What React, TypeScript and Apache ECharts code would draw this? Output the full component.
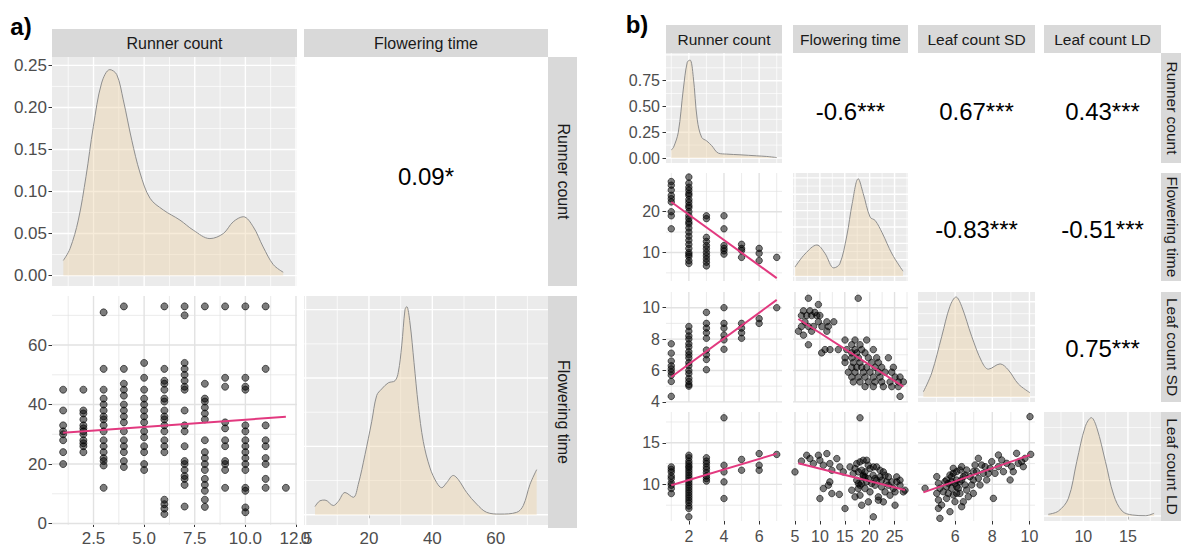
import React, { useEffect, useRef } from "react";
import * as echarts from "echarts";

// ======================= DATA =======================
// ---- panel a ----
const aVarNames = ["Runner count", "Flowering time"];
const aCorrLabel = "0.09*";
const aRunnerCounts = [1, 2, 3, 4, 5, 6, 7, 8, 9, 10, 11, 12];
const aFlowerByRunner = [
  [45, 38, 33, 31, 30, 28, 24, 20],
  [45, 38, 37, 35, 33, 32, 31, 30, 28, 27, 26, 24],
  [71, 52, 45, 42, 40, 38, 36, 35, 33, 31, 28, 26, 24, 22, 21, 19.5, 12],
  [73, 52, 47, 45, 43, 40, 38, 36, 34, 31, 28, 26, 24, 21, 19],
  [54, 49, 45, 42, 40, 38, 36, 34, 31, 29, 26, 24, 20, 18],
  [73, 52, 48, 47, 45, 42, 41, 38, 36, 35, 33, 31, 28, 26, 24, 8, 6.5, 5, 3.2],
  [73, 70, 54, 52, 50, 48, 46, 45, 38, 33, 31, 26, 21, 20, 18, 16, 15, 13, 5.7],
  [73, 47, 42, 41, 39, 37, 35, 28, 24, 22, 20, 18, 15, 13, 11, 8, 5.6],
  [73, 49, 46, 34, 32, 28, 26, 21, 20, 18, 12],
  [73, 49, 46, 45, 33, 31, 28, 26, 24, 22, 20, 18, 12, 11, 5.4, 3.8],
  [73, 52, 33, 28, 26, 22, 20, 15, 12],
  [12],
];
const aFit = [[1, 30.5], [12, 35.9]];
const aRunnerDensX = [1.01, 1.34, 1.75, 2.13, 2.49, 2.9, 3.31, 3.65, 3.97, 4.39, 4.8, 5.29, 5.95, 6.77, 7.43, 8.25, 8.91, 9.4, 9.9, 10.39, 10.88, 11.38, 11.87];
const aRunnerDensY = [0.018, 0.032, 0.066, 0.118, 0.177, 0.229, 0.245, 0.239, 0.209, 0.161, 0.122, 0.092, 0.078, 0.066, 0.054, 0.044, 0.05, 0.064, 0.07, 0.058, 0.034, 0.013, 0.004];
const aFlowerDensX = [2.97, 4.55, 6.13, 8.75, 10.32, 12.44, 15.06, 16.63, 18.75, 20.86, 22.44, 24.02, 26.1, 28.22, 29.26, 30.33, 31.37, 31.91, 32.95, 34.21, 35.57, 37.15, 39.26, 41.37, 42.95, 44.53, 46.61, 48.19, 50.84, 54.0, 57.15, 61.35, 66.62, 68.7, 70.82, 72.93];
const aFlowerDensY = [0.0024, 0.0041, 0.0043, 0.0027, 0.0039, 0.0065, 0.0051, 0.0089, 0.0176, 0.0272, 0.0349, 0.0368, 0.0386, 0.0392, 0.0417, 0.0494, 0.06, 0.0609, 0.0561, 0.0446, 0.032, 0.0214, 0.0137, 0.0094, 0.0079, 0.0094, 0.0115, 0.0103, 0.0065, 0.0031, 0.0007, 0.0002, 0.0007, 0.0027, 0.0089, 0.0132];

// ---- panel b ----
const bVarNames = ["Runner count", "Flowering time", "Leaf count SD", "Leaf count LD"];
const bCorrLabels = ["-0.6***", "0.67***", "0.43***", "-0.83***", "-0.51***", "0.75***"];
const bRunnerCounts = [1, 2, 3, 4, 5, 6, 7];
const bFlowerByRunner = [
  [27.4, 26.5, 25.3, 24, 23.2, 22.4, 20, 19, 15.8],
  [28.5, 27, 26, 25.3, 24.5, 24, 23, 22.3, 21.5, 21, 20, 19, 18.3, 17.5, 17, 16, 15, 14, 13, 12, 11, 10, 9.5, 9, 8, 7.3],
  [19, 18.3, 13.7, 12.7, 11.7, 10.9, 10, 9.2, 8.4, 7.6, 6.7],
  [19, 15.8, 11.7, 11, 10.4, 9.6],
  [12, 11, 10.5, 8.8],
  [11, 9.8, 8],
  [8.8],
];
const bSdByRunner = [
  [7.7, 7.1, 6.6, 6.3, 6.1, 5.9, 5.7, 5.3, 4.35],
  [8.8, 8.5, 8.2, 8, 7.7, 7.5, 7.2, 7, 6.8, 6.5, 6.3, 6, 5.8, 5.5, 5.3, 5.1, 5.0],
  [9.7, 9, 8.7, 8.4, 8.05, 7.3, 7.0, 6.7, 6.05],
  [10, 9, 8.7, 8.25, 7.95, 7.35],
  [9, 8.7, 8.4, 8.05],
  [9.3, 9.0],
  [10],
];
const bLdByRunner = [
  [12.1, 11.8, 11.5, 11, 10.7, 10.2, 9.9, 9.5, 8.9],
  [13.5, 13.2, 12.8, 12.5, 12.2, 12, 11.7, 11.4, 11.1, 10.8, 10.5, 10.2, 9.9, 9.6, 9.3, 9.0, 8.7, 8.4, 8.1, 7.8, 7.4, 7.1, 6.1],
  [13.2, 12.8, 12.5, 12.1, 11.8, 11.4, 11.0, 10.7, 10.4],
  [18, 12.3, 11.5, 10.3, 8.3],
  [13, 11.7],
  [13.7, 12.3, 11.7],
  [13.6],
];
const bFlowerSd = [
  [7.7, 10.6], [17.7, 10.6], [9.7, 10.2], [6.7, 9.8], [8.0, 9.8], [9.0, 9.7], [6.3, 9.5], [7.35, 9.5], [8.35, 9.5], [9.36, 9.5], [10.0, 9.5],
  [7.0, 9.1], [9.7, 9.1], [11.4, 9.1], [12.8, 9.1], [6.3, 8.8], [7.7, 8.8], [8.7, 8.8], [10.4, 8.8], [11.7, 8.8], [5.7, 8.5], [8.35, 8.5],
  [11.4, 8.5], [6.7, 8.25], [15.05, 7.94], [17.06, 7.94], [19.4, 7.94], [7.7, 7.64], [16.4, 7.64], [18.06, 7.64], [11.03, 7.33], [12.03, 7.33],
  [13.7, 7.33], [15.4, 7.33], [17.06, 7.33], [18.4, 7.33], [20.74, 7.33], [10.36, 7.12], [16.4, 7.12], [17.4, 7.12], [19.07, 7.12], [15.05, 6.81],
  [16.4, 6.81], [17.73, 6.81], [19.74, 6.81], [21.41, 6.81], [23.76, 6.81], [15.05, 6.51], [16.72, 6.51], [18.06, 6.51], [20.41, 6.51], [21.75, 6.51],
  [16.4, 6.2], [17.4, 6.2], [18.4, 6.2], [19.4, 6.2], [21.08, 6.2], [22.42, 6.2], [24.76, 6.2], [15.72, 5.89], [17.06, 5.89], [18.73, 5.89],
  [20.07, 5.89], [21.75, 5.89], [23.09, 5.89], [24.43, 5.89], [16.4, 5.58], [17.73, 5.58], [19.07, 5.58], [20.74, 5.58], [22.08, 5.58], [25.1, 5.58],
  [26.1, 5.58], [16.72, 5.27], [18.06, 5.27], [19.74, 5.27], [21.08, 5.27], [22.42, 5.27], [24.09, 5.27], [25.77, 5.27], [26.77, 5.27], [19.07, 4.97],
  [20.74, 4.97], [22.75, 4.97], [24.43, 4.97], [25.77, 4.97], [26.1, 4.35],
];
const bFlowerLd = [
  [5.0, 11.5], [6.3, 12.8], [7.35, 13.5], [8.0, 13.1], [8.7, 12.5], [9.7, 13.5], [10.0, 12.9], [10.7, 12.3], [11.4, 13.7], [12.0, 12.5], [12.4, 11.7],
  [13.4, 13.1], [14.0, 12.1], [14.7, 11.5], [12.0, 10.3], [11.7, 9.9], [10.7, 9.5], [10.0, 8.3], [12.4, 8.9], [13.9, 8.8], [15.05, 7.1], [18.06, 18.0],
  [16.05, 12.1], [16.7, 11.3], [17.06, 11.9], [17.4, 10.5], [17.7, 9.5], [18.06, 8.7], [18.7, 12.9], [18.7, 11.1], [19.4, 10.3], [19.7, 12.3],
  [20.07, 9.1], [20.7, 11.1], [21.08, 9.9], [21.4, 12.1], [21.75, 8.5], [22.08, 10.9], [22.4, 9.7], [22.75, 11.5], [23.09, 9.1], [23.4, 10.3],
  [24.09, 8.7], [24.76, 9.5], [25.43, 10.9], [26.1, 9.9], [26.77, 9.1], [25.1, 7.5], [20.74, 6.1], [19.74, 7.9], [18.4, 7.5], [21.75, 8.1],
  [25.43, 10.3], [17.73, 11.5], [19.07, 9.5], [21.4, 10.5], [22.75, 7.9], [23.76, 10.9], [26.1, 10.5], [27.1, 9.3], [18.4, 10.1], [17.4, 12.5],
  [18.06, 12.7], [18.4, 11.7], [18.7, 10.9], [19.07, 11.5], [19.4, 12.9], [19.74, 10.7], [20.07, 11.9], [20.4, 10.1], [17.73, 10.1], [18.06, 9.9],
  [19.07, 10.9], [20.74, 12.1], [21.08, 10.7], [22.08, 11.7], [22.4, 10.5], [23.09, 11.1], [23.76, 9.9], [24.43, 10.3], [25.1, 9.1], [16.4, 9.3], [17.06, 8.5],
];
const bSdLd = [
  [4.38, 9.53], [5.01, 10.93], [5.1, 10.13], [5.18, 9.53], [5.01, 8.92], [5.1, 8.12], [5.1, 7.12], [5.18, 5.92], [5.54, 10.53], [5.54, 9.73],
  [5.63, 8.92], [5.72, 11.13], [5.81, 10.33], [5.81, 9.53], [5.9, 8.72], [5.99, 7.92], [6.08, 10.53], [6.08, 9.73], [6.26, 8.92], [6.35, 7.32],
  [6.35, 12.13], [6.44, 10.93], [6.53, 9.93], [6.62, 9.32], [6.71, 8.52], [6.8, 10.93], [6.98, 8.92], [6.98, 11.53], [7.07, 12.33], [7.25, 13.13],
  [7.25, 10.73], [7.34, 9.93], [7.52, 11.33], [7.61, 12.13], [7.7, 10.53], [7.88, 11.93], [8.06, 8.32], [8.15, 11.33], [8.33, 13.53], [8.33, 12.13],
  [8.51, 12.93], [8.6, 11.53], [8.78, 12.53], [8.96, 10.53], [9.04, 12.13], [9.13, 11.53], [9.31, 13.73], [9.4, 12.53], [9.58, 12.73], [9.67, 12.13],
  [9.76, 13.13], [10.03, 18.14], [10.07, 13.61], [5.9, 11.33], [5.36, 9.12], [6.26, 10.33], [6.89, 9.93], [7.43, 12.33], [7.97, 12.73], [5.27, 7.52],
  [6.44, 7.92], [5.72, 6.72], [6.98, 10.53], [7.16, 11.53], [5.9, 11.93], [6.62, 11.73], [5.54, 8.32], [6.08, 11.53], [7.79, 11.33], [5.63, 10.13],
  [5.81, 10.93], [5.99, 10.13], [6.17, 9.53], [6.35, 10.53], [6.08, 8.92], [6.53, 11.13], [5.45, 10.33], [6.26, 11.73],
];
const bFitRunnerFlower = [[1, 22.4], [7, 3.7]];
const bFitRunnerSd = [[1, 5.58], [7, 10.5]];
const bFitFlowerSd = [[5.67, 9.28], [26.77, 4.97]];
const bFitRunnerLd = [[1, 9.9], [7, 13.7]];
const bFitFlowerLd = [[5.67, 12.53], [27.1, 9.32]];
const bFitSdLd = [[4.29, 9.04], [10.03, 13.53]];
const bRunnerDensX = [1.0, 1.12, 1.4, 1.68, 1.91, 2.07, 2.25, 2.48, 2.73, 3.02, 3.3, 3.68, 4.15, 4.91, 5.86, 6.43, 7.0];
const bRunnerDensY = [0.08, 0.1, 0.25, 0.66, 0.93, 0.95, 0.79, 0.37, 0.2, 0.165, 0.12, 0.047, 0.038, 0.031, 0.021, 0.015, 0.004];
const bFlowerDensX = [5.0, 7.0, 9.4, 11.0, 12.8, 14.0, 15.4, 16.5, 17.7, 18.7, 20.1, 21.1, 22.5, 24.5, 26.7];
const bFlowerDensY = [0.011, 0.027, 0.038, 0.028, 0.01, 0.015, 0.049, 0.089, 0.119, 0.101, 0.072, 0.068, 0.053, 0.027, 0.006];
const bSdDensX = [4.29, 4.74, 5.28, 5.72, 6.05, 6.35, 6.89, 7.43, 7.79, 8.42, 8.86, 9.4, 10.03];
const bSdDensY = [0.022, 0.101, 0.255, 0.381, 0.42, 0.381, 0.255, 0.149, 0.117, 0.139, 0.114, 0.055, 0.018];
const bLdDensX = [6.08, 7.21, 8.33, 9.27, 10.22, 10.9, 11.53, 12.48, 13.41, 14.35, 15.48, 16.99, 17.93];
const bLdDensY = [0.005, 0.014, 0.05, 0.154, 0.253, 0.278, 0.248, 0.154, 0.059, 0.014, 0.003, 0.001, 0.008];

// ---- tick labels ----
const aRunnerTicks = [2.5, 5, 7.5, 10, 12.5];
const aFlowerTicks = [0, 20, 40, 60];
const aDensTicks = [0, 0.05, 0.1, 0.15, 0.2, 0.25];
const bRunnerTicks = [2, 4, 6];
const bFlowerTicksX = [5, 10, 15, 20, 25];
const bFlowerTicksY = [10, 20];
const bSdTicksX = [6, 8, 10];
const bSdTicksY = [4, 6, 8, 10];
const bLdTicks = [10, 15];
const bDensTicks = [0, 0.25, 0.5, 0.75];

// ======================= SCALES / LAYOUT =======================
const aRunnerRange = [0.45, 12.55];
const aFlowerRange = [-0.5, 76.5];
const aRunnerDensRange = [-0.0124, 0.26];
const aFlowerDensRange = [-0.003, 0.064];
const bRunnerRange = [0.7, 7.3];
const bFlowerRangeX = [4.6, 27.7];
const bFlowerRangeY = [3, 29.5];
const bSdRangeX = [4.0, 10.3];
const bSdRangeY = [3.99, 11.0];
const bLdRange = [5.6, 18.7];
const bRunnerDensRange = [-0.0485, 1.0185];
const bFlowerDensRange = [-0.006, 0.126];
const bSdDensRange = [-0.021, 0.441];
const bLdDensRange = [-0.014, 0.294];

// grid lines (major, minor)
const gl = {
  aRunner: [[2.5, 5, 7.5, 10, 12.5], [1.25, 3.75, 6.25, 8.75, 11.25]],
  aFlower: [[0, 20, 40, 60], [10, 30, 50, 70]],
  aRunnerDens: [[0, 0.05, 0.1, 0.15, 0.2, 0.25], [0.025, 0.075, 0.125, 0.175, 0.225]],
  aFlowerDens: [[0, 0.02, 0.04, 0.06], [0.01, 0.03, 0.05]],
  bRunner: [[2, 4, 6], [1, 3, 5, 7]],
  bFlowerX: [[5, 10, 15, 20, 25], [7.5, 12.5, 17.5, 22.5, 27.5]],
  bFlowerY: [[10, 20], [5, 15, 25]],
  bSdX: [[6, 8, 10], [5, 7, 9]],
  bSdY: [[4, 6, 8, 10], [5, 7, 9]],
  bLd: [[10, 15], [7.5, 12.5, 17.5]],
  bRunnerDens: [[0, 0.25, 0.5, 0.75, 1.0], [0.125, 0.375, 0.625, 0.875]],
  bFlowerDens: [[0, 0.02, 0.04, 0.06, 0.08, 0.1, 0.12], [0.01, 0.03, 0.05, 0.07, 0.09, 0.11]],
  bSdDens: [[0, 0.1, 0.2, 0.3, 0.4], [0.05, 0.15, 0.25, 0.35]],
  bLdDens: [[0, 0.1, 0.2], [0.05, 0.15, 0.25]],
};

const A_COLS = [[52, 297], [304, 548]];
const A_ROWS = [[57, 286], [296, 528]];
const B_COLS = [[666, 782], [793, 908], [918, 1035], [1044, 1161]];
const B_ROWS = [[53, 163], [173, 281], [292, 402], [412, 521]];

const FONT = "'Liberation Sans', Arial, Helvetica, sans-serif";
const GREY_BG = "#EBEBEB";
const SCATTER_GRID = "#E2E2E2";
const FILL = "rgba(233,205,160,0.55)";
const PINK = "#E2397F";

// ======================= HELPERS =======================
const zip = (xs: number[], ys: number[]) => xs.map((x, i) => [x, ys[i]]);
const byCat = (cats: number[], groups: number[][]) =>
  groups.flatMap((ys, i) => ys.map((y) => [cats[i], y]));

function gridRect(col: number[], row: number[], bg: string | null) {
  return {
    left: col[0], top: row[0], width: col[1] - col[0], height: row[1] - row[0],
    show: !!bg, backgroundColor: bg || "transparent", borderWidth: 0, borderColor: "transparent", containLabel: false, z: 0,
  };
}

function axis(gi: number, range: number[], ticks: number[] | null, fmt: (v: number) => string, fs: number, margin: number) {
  return {
    type: "value", gridIndex: gi, min: range[0], max: range[1], scale: true,
    axisLine: { show: false },
    axisTick: ticks
      ? { show: true, customValues: ticks, length: 3.5, lineStyle: { color: "#333333", width: 1 } }
      : { show: false },
    axisLabel: ticks
      ? { show: true, customValues: ticks, formatter: (v: number) => fmt(v), color: "#4D4D4D", fontSize: fs, fontFamily: FONT, margin }
      : { show: false },
    splitLine: { show: false },
    minorSplitLine: { show: false },
  };
}

// panel grid lines: each one a tiny 2-point line series drawn through the axes
function gridLineSeries(gi: number, xr: number[], yr: number[], xg: number[][], yg: number[][], color: string) {
  const out: any[] = [];
  const mk = (data: number[][], w: number) => ({
    type: "line", xAxisIndex: gi, yAxisIndex: gi, data, symbol: "none", showSymbol: false, silent: true, z: 2,
    lineStyle: { color, width: w }, emphasis: { disabled: true }, clip: false,
  });
  xg[1].forEach((v) => out.push(mk([[v, yr[0]], [v, yr[1]]], 0.7)));
  yg[1].forEach((v) => out.push(mk([[xr[0], v], [xr[1], v]], 0.7)));
  xg[0].forEach((v) => out.push(mk([[v, yr[0]], [v, yr[1]]], 1.4)));
  yg[0].forEach((v) => out.push(mk([[xr[0], v], [xr[1], v]], 1.4)));
  return out;
}

function densitySeries(gi: number, data: number[][]) {
  return {
    type: "line", xAxisIndex: gi, yAxisIndex: gi, data, smooth: 0.35, symbol: "none", showSymbol: false,
    lineStyle: { color: "#8E8E8E", width: 1 }, areaStyle: { color: FILL }, z: 5, silent: true,
  };
}

function scatterSeries(gi: number, data: number[][], size: number) {
  return {
    type: "scatter", xAxisIndex: gi, yAxisIndex: gi, data, symbolSize: size, z: 5, silent: true,
    itemStyle: { color: "rgba(0,0,0,0.64)", borderColor: "rgba(0,0,0,0.82)", borderWidth: 0.9 },
  };
}

function fitSeries(gi: number, data: number[][]) {
  return {
    type: "line", xAxisIndex: gi, yAxisIndex: gi, data, symbol: "none", showSymbol: false, z: 6, silent: true,
    lineStyle: { color: PINK, width: 2 },
  };
}

function textEl(text: string, x: number, y: number, size: number, color: string, rot = 0, weight = "normal") {
  return {
    type: "text", x, y, rotation: rot, silent: true, z: 10,
    style: {
      text, fill: color, fontSize: size, fontFamily: FONT, fontWeight: weight,
      textAlign: "center", textVerticalAlign: "middle", align: "center", verticalAlign: "middle",
    },
  };
}

function rectEl(x: number, y: number, w: number, h: number, fill: string) {
  return { type: "rect", shape: { x, y, width: w, height: h }, style: { fill }, silent: true, z: 5 };
}

const f2 = (v: number) => v.toFixed(2);
const f1 = (v: number) => v.toFixed(1);
const f0 = (v: number) => String(v);

// ======================= COMPONENT =======================
export default function App() {
  const ref = useRef<HTMLDivElement>(null);

  useEffect(() => {
    if (!ref.current) return;
    const chart = echarts.init(ref.current, null, { renderer: "svg" });

    const grids: any[] = [];
    const xAxes: any[] = [];
    const yAxes: any[] = [];
    const series: any[] = [];

    // xa / ya: [range, ticks, fmt, fontSize, margin, gridLines]
    const add = (col: number[], row: number[], bg: string | null, xa: any[], ya: any[]) => {
      const gi = grids.length;
      grids.push(gridRect(col, row, bg));
      xAxes.push(axis(gi, xa[0], xa[1], xa[2], xa[3], xa[4]));
      yAxes.push(axis(gi, ya[0], ya[1], ya[2], ya[3], ya[4]));
      series.push(...gridLineSeries(gi, xa[0], ya[0], xa[5], ya[5], bg ? "#FFFFFF" : SCATTER_GRID));
      return gi;
    };

    // ---------- panel a ----------
    const AF = 17;
    let gi = add(A_COLS[0], A_ROWS[0], GREY_BG,
      [aRunnerRange, null, f1, AF, 5, gl.aRunner], [aRunnerDensRange, aDensTicks, f2, AF, 5, gl.aRunnerDens]);
    series.push(densitySeries(gi, zip(aRunnerDensX, aRunnerDensY)));

    gi = add(A_COLS[0], A_ROWS[1], null,
      [aRunnerRange, aRunnerTicks, f1, AF, 5, gl.aRunner], [aFlowerRange, aFlowerTicks, f0, AF, 5, gl.aFlower]);
    series.push(scatterSeries(gi, byCat(aRunnerCounts, aFlowerByRunner), 7));
    series.push(fitSeries(gi, aFit));

    gi = add(A_COLS[1], A_ROWS[1], GREY_BG,
      [aFlowerRange, aFlowerTicks, f0, AF, 5, gl.aFlower], [aFlowerDensRange, null, f0, AF, 5, gl.aFlowerDens]);
    series.push(densitySeries(gi, zip(aFlowerDensX, aFlowerDensY)));

    // ---------- panel b ----------
    const BF = 16;
    const bX: any[] = [
      [bRunnerRange, bRunnerTicks, gl.bRunner],
      [bFlowerRangeX, bFlowerTicksX, gl.bFlowerX],
      [bSdRangeX, bSdTicksX, gl.bSdX],
      [bLdRange, bLdTicks, gl.bLd],
    ];
    const bY: any[] = [
      [bRunnerDensRange, bDensTicks, gl.bRunnerDens, f2],
      [bFlowerRangeY, bFlowerTicksY, gl.bFlowerY, f0],
      [bSdRangeY, bSdTicksY, gl.bSdY, f0],
      [bLdRange, bLdTicks, gl.bLd, f0],
    ];
    const dens: any[] = [
      [zip(bRunnerDensX, bRunnerDensY), bRunnerDensRange, gl.bRunnerDens],
      [zip(bFlowerDensX, bFlowerDensY), bFlowerDensRange, gl.bFlowerDens],
      [zip(bSdDensX, bSdDensY), bSdDensRange, gl.bSdDens],
      [zip(bLdDensX, bLdDensY), bLdDensRange, gl.bLdDens],
    ];
    const scat: Record<string, any[]> = {
      "1-0": [byCat(bRunnerCounts, bFlowerByRunner), bFitRunnerFlower],
      "2-0": [byCat(bRunnerCounts, bSdByRunner), bFitRunnerSd],
      "2-1": [bFlowerSd, bFitFlowerSd],
      "3-0": [byCat(bRunnerCounts, bLdByRunner), bFitRunnerLd],
      "3-1": [bFlowerLd, bFitFlowerLd],
      "3-2": [bSdLd, bFitSdLd],
    };
    for (let r = 0; r < 4; r++) {
      for (let c = 0; c <= r; c++) {
        const xa = [bX[c][0], r === 3 ? bX[c][1] : null, f0, BF, 7, bX[c][2]];
        if (r === c) {
          const d = dens[r];
          const ya = c === 0 ? [bY[0][0], bY[0][1], f2, BF, 6, d[2]] : [d[1], null, f0, BF, 6, d[2]];
          const g = add(B_COLS[c], B_ROWS[r], GREY_BG, xa, ya);
          series.push(densitySeries(g, d[0]));
        } else {
          const ya = [bY[r][0], c === 0 ? bY[r][1] : null, bY[r][3], BF, 6, bY[r][2]];
          const g = add(B_COLS[c], B_ROWS[r], null, xa, ya);
          const s = scat[`${r}-${c}`];
          series.push(scatterSeries(g, s[0], 6.5));
          series.push(fitSeries(g, s[1]));
        }
      }
    }

    // ---------- graphics: strips, labels, correlations ----------
    const graphic: any[] = [];
    const STRIP = "#D9D9D9";
    const STRIP_TXT = "#1A1A1A";
    A_COLS.forEach((c, i) => {
      graphic.push(rectEl(c[0], 29, c[1] - c[0], 28, STRIP));
      graphic.push(textEl(aVarNames[i], (c[0] + c[1]) / 2, 43, 16, STRIP_TXT));
    });
    A_ROWS.forEach((r, i) => {
      graphic.push(rectEl(548, r[0], 29, r[1] - r[0], STRIP));
      graphic.push(textEl(aVarNames[i], 563, (r[0] + r[1]) / 2, 16, STRIP_TXT, -Math.PI / 2));
    });
    graphic.push(textEl(aCorrLabel, 426, 176, 24, "#000000"));
    graphic.push(textEl("a)", 21, 26, 24, "#000000", 0, "bold"));

    B_COLS.forEach((c, i) => {
      graphic.push(rectEl(c[0], 25, c[1] - c[0], 28, STRIP));
      graphic.push(textEl(bVarNames[i], (c[0] + c[1]) / 2, 39, 15.5, STRIP_TXT));
    });
    B_ROWS.forEach((r, i) => {
      graphic.push(rectEl(1161, r[0], 28, r[1] - r[0], STRIP));
      graphic.push(textEl(bVarNames[i], 1172, (r[0] + r[1]) / 2, 15.5, STRIP_TXT, -Math.PI / 2));
    });
    const corrPos = [[1, 111], [2, 111], [3, 111], [2, 229], [3, 229], [3, 348]];
    corrPos.forEach((p, i) => {
      const c = B_COLS[p[0]];
      graphic.push(textEl(bCorrLabels[i], (c[0] + c[1]) / 2, p[1], 24, "#000000"));
    });
    graphic.push(textEl("b)", 637, 24, 24, "#000000", 0, "bold"));

    chart.setOption({
      animation: false,
      backgroundColor: "#FFFFFF",
      textStyle: { fontFamily: FONT },
      grid: grids,
      xAxis: xAxes,
      yAxis: yAxes,
      series,
      graphic,
    });

    return () => chart.dispose();
  }, []);

  return (
    <div
      ref={ref}
      style={{ position: "fixed", left: 0, top: 0, width: 1181, height: 547, background: "#FFFFFF" }}
    />
  );
}
